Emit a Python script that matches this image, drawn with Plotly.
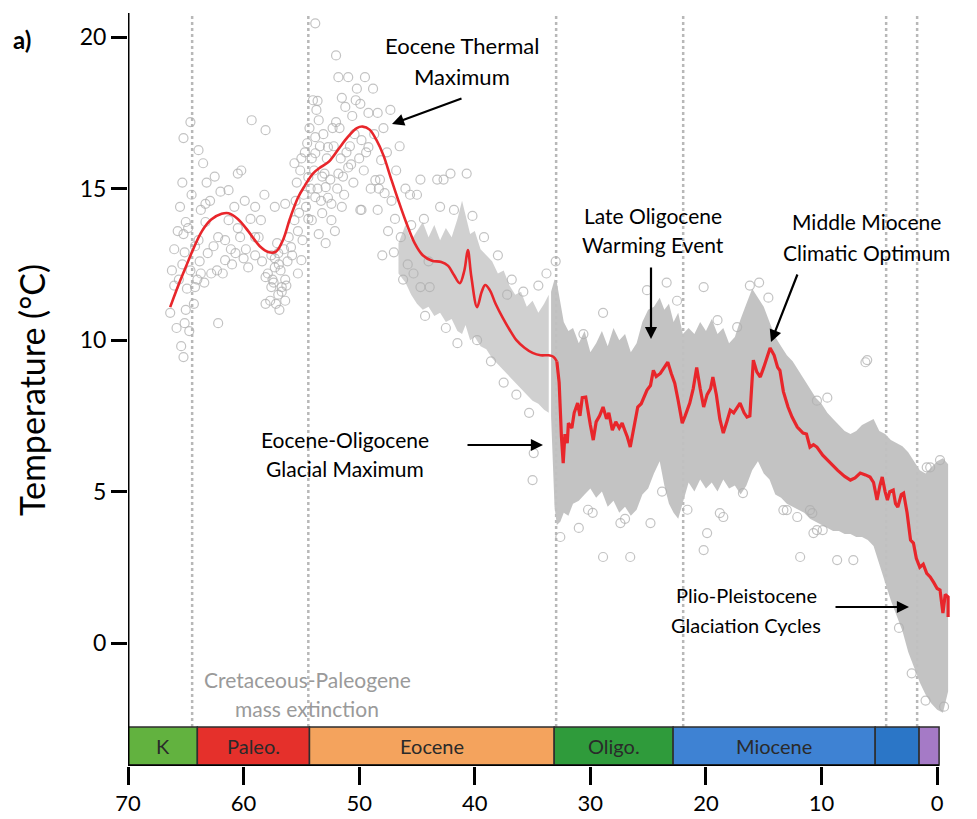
import plotly.graph_objects as go

# ---------------- data ----------------
# smoothed temperature curve (red), Late Cretaceous to Eocene
curve_age = [66.35, 65.5, 64.8, 64.4, 63.6, 62.8, 61.9, 61.3, 60.5, 59.6, 58.6, 57.8, 57.2, 56.6, 56.0,
             55.3, 54.7, 54.0, 53.3, 52.6, 51.8, 51.0, 50.2, 49.7, 49.1, 48.5, 47.9, 47.3, 46.6, 45.9,
             45.2, 44.5, 43.7, 42.9, 42.3, 41.8, 41.3, 40.9, 40.6, 40.3, 39.8, 39.4, 39.1, 38.7, 38.2,
             37.6, 37.0, 36.4, 35.7, 35.0, 34.3, 33.6, 33.2, 32.9]
curve_temp = [11.09, 11.95, 12.6, 12.97, 13.6, 13.98, 14.17, 14.19, 14.0, 13.6, 13.1, 12.9, 12.92, 13.3, 14.0,
              14.7, 15.1, 15.5, 15.72, 15.9, 16.3, 16.7, 17.0, 17.05, 16.95, 16.6, 16.1, 15.4, 14.6, 13.85,
              13.2, 12.8, 12.62, 12.58, 12.45, 12.15, 11.88, 12.3, 12.97, 12.1, 11.09, 11.6, 11.82, 11.65, 11.2,
              10.75, 10.35, 10.0, 9.75, 9.58, 9.5, 9.5, 9.45, 9.3]

# binned temperature curve (red), Oligocene to present
curve2_age = [32.9, 32.7, 32.5, 32.35, 32.2, 32.0, 31.9, 31.6, 31.4, 31.1, 30.9, 30.7, 30.4, 30.2, 30.0,
              29.75, 29.5, 29.2, 28.9, 28.6, 28.4, 28.1, 27.8, 27.5, 27.25, 27.0, 26.8, 26.55, 26.3, 26.1,
              25.9, 25.6, 25.4, 25.1, 24.8, 24.55, 24.3, 23.95, 23.6, 23.3, 23.0, 22.7, 22.4, 22.05, 21.8,
              21.6, 21.4, 21.1, 20.8, 20.5, 20.2, 19.9, 19.6, 19.4, 19.1, 18.8, 18.5, 18.2, 17.9, 17.6,
              17.3, 17.05, 16.7, 16.45, 16.2, 15.9, 15.6, 15.3, 15.0, 14.7, 14.45, 14.1, 13.8, 13.6, 13.3,
              12.9, 12.55, 12.1, 11.6, 11.3, 11.0, 10.7, 10.4, 9.9, 9.25, 8.6, 8.0, 7.5, 7.1, 6.65,
              6.2, 5.8, 5.5, 5.2, 4.95, 4.75, 4.5, 4.3, 4.1, 3.8, 3.6, 3.4, 3.1, 2.9, 2.6,
              2.3, 2.05, 1.8, 1.5, 1.2, 0.9, 0.6, 0.3, 0.0, -0.25, -0.5, -0.7, -0.95, -0.95]
curve2_temp = [9.3, 8.6, 6.8, 5.94, 6.9, 6.6, 7.26, 7.1, 7.6, 7.92, 7.5, 8.1, 8.12, 7.6, 7.2,
               6.7, 7.3, 7.5, 7.79, 7.4, 7.6, 7.03, 7.3, 7.1, 7.26, 7.0, 6.8, 6.47, 7.0, 7.3,
               7.79, 7.9, 8.1, 8.35, 8.5, 9.0, 8.8, 8.9, 9.1, 9.27, 8.9, 8.58, 8.0, 7.26, 7.5,
               7.7, 7.92, 8.4, 9.1, 8.4, 7.79, 8.2, 8.4, 8.78, 8.2, 7.4, 6.93, 7.3, 7.69, 7.6,
               7.8, 7.92, 7.6, 7.46, 7.5, 9.34, 8.95, 8.78, 9.1, 9.5, 9.74, 9.5, 9.1, 9.0, 8.3,
               7.79, 7.46, 7.13, 6.93, 6.9, 6.47, 6.55, 6.47, 6.2, 5.94, 5.7, 5.5, 5.38, 5.45, 5.61,
               5.55, 5.48, 5.3, 4.72, 5.2, 5.48, 5.0, 4.72, 5.0, 5.05, 4.6, 4.49, 4.9, 4.95, 4.3,
               3.4, 3.3, 2.8, 2.5, 2.6, 2.3, 2.18, 2.0, 1.8, 1.75, 0.99, 1.6, 1.52, 0.86]

# envelope of the dense cloud of measurements (middle/late Eocene)
band1_age = [46.6, 46.0, 45.5, 45.0, 44.5, 44.0, 43.5, 43.0, 42.5, 42.0, 41.5, 41.1, 40.8, 40.4, 40.0,
             39.5, 39.0, 38.5, 38.0, 37.5, 37.0, 36.5, 36.0, 35.5, 35.0, 34.5, 34.0, 33.6]
band1_hi = [13.2, 13.8, 13.3, 13.6, 13.9, 13.4, 13.8, 13.3, 13.7, 13.4, 14.0, 14.6, 14.1, 13.5, 13.6,
            13.0, 12.8, 12.6, 12.2, 12.3, 11.8, 11.5, 11.6, 11.1, 11.3, 10.9, 11.2, 11.5]
band1_lo = [12.2, 11.9, 11.5, 11.2, 11.0, 11.1, 10.8, 10.9, 10.6, 10.7, 10.3, 10.2, 10.5, 10.0, 10.1,
            9.8, 9.7, 9.4, 9.2, 9.0, 8.8, 8.6, 8.4, 8.2, 8.0, 7.9, 7.7, 7.6]

# envelope of the dense cloud (Oligocene to present)
band2_age = [33.4, 33.1, 32.9, 32.6, 32.3, 31.9, 31.5, 31.0, 30.5, 30.0, 29.5, 29.0, 28.5, 28.0, 27.5,
             27.0, 26.5, 26.0, 25.5, 25.0, 24.5, 24.0, 23.6, 23.2, 22.8, 22.4, 22.0, 21.5, 21.0, 20.5,
             20.0, 19.5, 19.0, 18.5, 18.0, 17.5, 17.0, 16.5, 16.0, 15.5, 15.0, 14.5, 14.0, 13.5, 13.0,
             12.5, 12.0, 11.5, 11.0, 10.5, 10.0, 9.5, 9.0, 8.5, 8.0, 7.5, 7.0, 6.5, 6.0, 5.5,
             5.0, 4.5, 4.0, 3.5, 3.0, 2.5, 2.0, 1.5, 1.0, 0.5, 0.0, -0.5, -0.95]
band2_hi = [11.6, 12.0, 11.9, 11.2, 10.6, 10.3, 10.4, 9.9, 10.3, 9.6, 9.9, 10.3, 9.8, 10.4, 10.0,
            10.2, 9.6, 9.9, 10.6, 11.0, 11.1, 11.4, 11.0, 11.2, 10.6, 10.9, 10.2, 10.4, 10.2, 10.6,
            10.3, 10.7, 10.2, 10.4, 9.9, 10.1, 10.7, 11.2, 11.7, 11.4, 11.1, 10.6, 10.1, 9.8, 9.5,
            9.3, 9.0, 8.7, 8.4, 8.1, 7.9, 7.6, 7.4, 7.2, 7.0, 6.9, 7.0, 7.2, 7.3, 7.4,
            7.0, 6.9, 6.7, 6.6, 6.5, 6.3, 6.0, 5.7, 5.6, 5.8, 6.0, 6.1, 5.9]
band2_lo = [7.5, 4.5, 3.9, 4.0, 4.3, 4.2, 4.6, 4.7, 4.9, 5.1, 4.8, 5.0, 4.5, 4.7, 4.3,
            4.5, 4.2, 4.4, 4.9, 5.1, 5.6, 6.0, 5.2, 4.6, 4.3, 4.1, 4.6, 5.3, 5.0, 5.4,
            5.1, 5.3, 5.0, 5.4, 5.1, 5.2, 4.9, 5.2, 5.7, 6.0, 5.6, 5.4, 4.9, 4.8, 4.6,
            4.5, 4.4, 4.3, 4.1, 4.0, 3.9, 3.8, 3.7, 3.7, 3.6, 3.6, 3.5, 3.5, 3.4, 3.2,
            2.6, 2.0, 1.4, 0.9, 0.4, -0.3, -0.8, -1.3, -1.7, -2.0, -2.2, -2.3, -1.6]

# individual measurements visible as open circles
pts_age = [66.35, 65.0, 65.1, 62.2, 65.2, 64.6, 63.9, 63.5, 63.2, 63.3, 65.0, 65.2, 63.9, 63.1, 63.7,
           64.2, 62.8, 62.2, 61.3, 60.5, 60.2, 61.3, 59.3, 58.1, 59.9, 59.0, 58.5, 60.5, 60.7, 61.6,
           59.6, 59.0, 58.1, 57.3, 57.6, 56.7, 58.1, 56.4, 57.0, 57.3, 56.4, 55.6, 55.9, 55.3, 55.0,
           55.6, 54.4, 53.8, 53.8, 54.0, 53.5, 52.7, 52.9, 53.8, 53.2, 54.1, 52.4, 51.8, 51.5, 52.4,
           50.95, 51.8, 50.95, 52.0, 49.5, 48.8, 50.3, 51.5, 49.2, 48.4, 49.2, 48.1, 48.6, 49.8, 48.4,
           47.8, 53.8, 53.6, 47.3, 46.5, 42.1, 40.7, 43.25, 65.2,
           57.5, 57.0, 56.8, 57.3, 56.4, 56.9, 57.7, 56.2, 57.1,
           55.2, 54.8, 54.4, 54.2, 53.9, 53.6, 53.3, 53.0, 52.8, 52.5, 52.2, 51.9, 51.6, 51.3, 50.8,
           50.5, 50.0, 49.6, 53.1, 52.0, 50.6, 49.9, 51.2, 54.5, 55.0, 55.4, 53.5, 52.9, 54.9, 52.1,
           65.6, 65.3, 64.9, 64.6, 64.3, 64.0, 63.7, 63.3, 62.6, 62.3, 61.8, 61.0, 60.0, 65.8, 65.4, 66.0,
           44.7, 42.7, 43.0, 48.2, 49.9, 45.8, 45.3, 44.7, 43.9, 44.3, 42.5, 41.5, 39.8, 38.6, 37.5,
           36.4, 35.3, 34.9, 35.0, 38.0, 36.8, 35.8, 34.5, 33.8, 37.2, 39.2, 40.2, 41.8, 47.0, 46.2,
           47.5, 48.0, 46.8, 45.6,
           66.2, 66.0, 65.7, 65.5, 65.3, 65.1, 64.8, 64.7, 64.5, 64.2, 63.8, 63.4, 62.9, 62.5, 62.0,
           61.6, 61.1, 60.8, 60.3, 59.8, 59.4, 59.0, 58.7, 58.4, 58.2, 57.9, 57.6, 57.4, 57.2, 56.95,
           56.7, 56.5, 56.3, 56.1, 55.8, 55.5, 55.3, 55.1, 54.7, 54.6, 54.3, 54.1, 53.7, 53.4, 53.2,
           52.7, 52.3, 51.7, 51.4, 51.1, 50.7, 50.4, 50.2, 49.8, 49.4, 49.0, 48.7, 48.3, 47.9, 47.6,
           47.2, 46.9, 46.4, 46.0, 45.5, 45.0, 44.4, 44.0,
           26.55, 20.2, 24.8, 27.4, 18.5, 28.9, 6.05, 11.85, 8.65, 7.25, 10.7, 0.6, 31.0, 29.8,
           25.1, 23.4, 20.2, 22.5, 28.9, 30.6, 19.0, 17.3, 16.2, 15.4, 6.2, 9.5, 10.4, -0.25, 0.9,
           13.3, 12.1, 10.8, 9.9, 18.8, 16.8, 19.9, 10.4, 13.0, 11.0, 30.2, 27.0, 23.8, 21.6, 33.0,
           32.6, 14.6, 2.2, 1.0, -0.6, 3.3]
pts_temp = [10.9, 11.0, 10.56, 10.56, 16.67, 17.2, 16.27, 15.84, 15.2, 14.5, 13.9, 13.5, 13.3, 12.87, 12.2,
            11.75, 12.2, 13.4, 13.96, 15.5, 15.6, 14.95, 17.26, 16.93, 14.6, 14.4, 13.96, 13.7, 12.87, 12.64,
            12.4, 13.4, 12.08, 12.4, 11.75, 11.75, 11.2, 11.3, 12.87, 14.4, 14.5, 13.96, 13.07, 12.2, 12.64,
            15.84, 15.38, 16.17, 16.7, 17.92, 17.26, 16.37, 15.05, 14.72, 14.19, 13.96, 14.5, 15.5, 14.4, 13.96,
            15.7, 18.68, 18.68, 19.4, 18.68, 18.3, 17.92, 18.0, 17.5, 17.5, 16.37, 15.94, 15.28, 14.3, 14.3,
            14.85, 20.46, 17.9, 17.6, 16.4, 15.5, 15.5, 15.3, 9.44,
            12.0, 11.5, 12.3, 12.7, 12.0, 11.0, 11.3, 12.6, 13.2,
            14.2, 14.8, 14.0, 15.0, 15.6, 15.0, 14.6, 15.5, 16.0, 15.3, 16.4, 15.0, 16.0, 14.8, 16.4,
            15.2, 16.0, 15.6, 16.8, 17.2, 17.4, 17.8, 17.7, 16.5, 16.0, 15.2, 13.5, 13.2, 13.3, 13.6,
            12.0, 12.5, 11.7, 12.3, 11.2, 12.0, 14.3, 13.9, 13.1, 12.3, 12.2, 12.5, 12.7, 10.4, 9.8, 11.8,
            15.3, 15.3, 14.4, 15.3, 14.3, 12.5, 12.2, 11.75, 11.75, 10.8, 10.4, 9.9, 10.0, 9.3, 8.6,
            8.2, 7.6, 6.27, 5.38, 12.8, 12.0, 11.6, 11.8, 12.2, 11.5, 13.4, 14.1, 14.3, 12.9, 12.0,
            13.6, 12.8, 15.6, 14.8,
            12.3, 13.0, 13.6, 14.4, 15.2, 12.9, 13.7, 10.3, 14.8, 13.1, 12.6, 11.9, 14.6, 15.4, 14.9,
            13.3, 13.0, 14.4, 13.4, 13.0, 14.0, 12.8, 13.4, 12.6, 14.8, 12.2, 12.8, 11.9, 11.2, 12.5,
            11.6, 13.0, 11.8, 13.4, 12.8, 14.6, 13.6, 15.6, 16.2, 14.4, 17.0, 16.0, 17.6, 16.4, 15.4,
            14.7, 17.0, 17.0, 15.4, 16.2, 15.8, 16.8, 18.3, 16.6, 16.2, 15.0, 16.8, 15.0, 17.0, 16.2,
            14.6, 14.0, 13.4, 15.0, 13.8, 14.8, 14.0, 12.6,
            2.84, 3.07, 3.96, 3.96, 4.16, 2.84, 9.34, 2.84, 2.74, 2.74, 3.63, 5.8, 3.8, 4.3,
            11.65, 11.9, 11.75, 11.3, 10.9, 10.2, 10.66, 10.43, 11.8, 11.9, 9.27, 8.1, 8.0, 6.04, 5.8,
            4.39, 4.16, 4.29, 3.73, 4.29, 4.95, 3.63, 3.73, 4.39, 4.39, 4.4, 4.1, 5.0, 4.4, 12.6,
            3.5, 11.4, -1.0, -1.9, -2.1, 0.5]

# boundary / event lines (Ma)
event_lines = [64.45, 54.4, 32.96, 21.97, 4.41, 1.73]

# geologic timescale bar
period_names = ["K", "Paleo.", "Eocene", "Oligo.", "Miocene", "", ""]
period_start = [70.0, 64.0, 54.3, 33.13, 22.84, 5.36, 1.56]
period_end = [64.0, 54.3, 33.13, 22.84, 5.36, 1.56, -0.17]
period_colors = ["#62b23f", "#e5302b", "#f4a35d", "#2f9b3b", "#3e82d3", "#2b76c7", "#a57ac6"]

x_ticks = [70, 60, 50, 40, 30, 20, 10, 0]
y_ticks = [0, 5, 10, 15, 20]

# ---------------- layout geometry ----------------
W, H = 977, 819
PL, PR, PT, PB = 128, 951, 13, 766      # plot area in window pixels
ML, MR, MT, MB = PL, W - PR, PT, H - PB
XR = [70, -1.2]
YR = [-4.06, 20.8]
BAR_TOP, BAR_BOT = -2.77, -4.03
PW = PR - PL
PH = PB - PT


def px(xp):
    return (xp - PL) / PW


def py(yp):
    return (PB - yp) / PH


FONT = "Lato, 'Open Sans', sans-serif"

fig = go.Figure()

fig.add_trace(go.Scatter(x=band1_age + band1_age[::-1], y=band1_hi + band1_lo[::-1],
                         fill="toself", fillcolor="rgba(196,196,196,0.8)", line=dict(width=0),
                         mode="lines", hoverinfo="skip", showlegend=False))
fig.add_trace(go.Scatter(x=band2_age + band2_age[::-1], y=band2_hi + band2_lo[::-1],
                         fill="toself", fillcolor="rgba(192,192,192,0.95)", line=dict(width=0),
                         mode="lines", hoverinfo="skip", showlegend=False))
fig.add_trace(go.Scatter(x=pts_age, y=pts_temp, mode="markers",
                         marker=dict(symbol="circle-open", size=9,
                                     line=dict(color="rgba(175,175,175,0.75)", width=1.2),
                                     color="rgba(175,175,175,0.75)"),
                         showlegend=False))
fig.add_trace(go.Scatter(x=curve_age, y=curve_temp, mode="lines",
                         line=dict(color="#e8262b", width=2.6, shape="spline"), showlegend=False))
fig.add_trace(go.Scatter(x=curve2_age, y=curve2_temp, mode="lines",
                         line=dict(color="#e8262b", width=3.2), showlegend=False))

shapes = []
for a in event_lines:
    shapes.append(dict(type="line", xref="x", yref="y", x0=a, x1=a, y0=BAR_TOP, y1=YR[1],
                       line=dict(color="#b8b8b8", width=2.5, dash="dot"), layer="below"))
for s, e, c in zip(period_start, period_end, period_colors):
    shapes.append(dict(type="rect", xref="x", yref="y", x0=s, x1=e, y0=BAR_BOT, y1=BAR_TOP,
                       fillcolor=c, line=dict(color="#2e2e2e", width=1.5), layer="above"))
# axis lines
shapes.append(dict(type="line", xref="x", yref="y", x0=70, x1=70, y0=YR[0], y1=YR[1],
                   line=dict(color="black", width=3)))
shapes.append(dict(type="line", xref="x", yref="y", x0=70, x1=period_end[-1], y0=YR[0], y1=YR[0],
                   line=dict(color="black", width=3)))

ann = []
for n, s, e in zip(period_names, period_start, period_end):
    if n:
        ann.append(dict(x=(s + e) / 2, y=(BAR_TOP + BAR_BOT) / 2, xref="x", yref="y", text=n,
                        xanchor="center", yanchor="middle",
                        showarrow=False, font=dict(family=FONT, size=20, color="#2a2a2a")))


def text_lines(lines, cx, y0, dy=30, color="black", size=21):
    for i, t in enumerate(lines):
        ann.append(dict(x=px(cx), y=py(y0 + i * dy), xref="paper", yref="paper", text=t,
                        xanchor="center", yanchor="middle",
                        showarrow=False, font=dict(family=FONT, size=size, color=color)))


text_lines(["Eocene Thermal", "Maximum"], 462, 46, size=22)
text_lines(["Late Oligocene", "Warming Event"], 653, 215)
text_lines(["Middle Miocene", "Climatic Optimum"], 866, 222)
text_lines(["Eocene-Oligocene", "Glacial Maximum"], 345, 440, dy=28)
text_lines(["Plio-Pleistocene", "Glaciation Cycles"], 746, 595, size=20)
text_lines(["Cretaceous-Paleogene", "mass extinction"], 307, 679, dy=29, color="#9a9a9a", size=21)


def arrow(hx, hy, tx, ty):
    ann.append(dict(x=px(hx), y=py(hy), xref="paper", yref="paper", text="",
                    showarrow=True, ax=tx - hx, ay=ty - hy, axref="pixel", ayref="pixel",
                    arrowhead=2, arrowsize=1.1, arrowwidth=2.2, arrowcolor="black"))


arrow(392, 124, 463, 98)
arrow(651, 339, 651, 266)
arrow(771, 342, 798, 273)
arrow(543, 445, 466, 445)
arrow(909, 607, 834, 607)

ann.append(dict(x=px(31), y=py(390), xref="paper", yref="paper", text="Temperature (°C)",
                xanchor="center", yanchor="middle",
                textangle=-90, showarrow=False, font=dict(family=FONT, size=34, color="black")))
ann.append(dict(x=px(22), y=py(40), xref="paper", yref="paper", text="<b>a)</b>",
                xanchor="center", yanchor="middle",
                showarrow=False, font=dict(family=FONT, size=24, color="black")))

fig.update_layout(
    width=W, height=H,
    margin=dict(l=ML, r=MR, t=MT, b=MB, autoexpand=False),
    plot_bgcolor="white", paper_bgcolor="white",
    shapes=shapes, annotations=ann,
    xaxis=dict(range=XR, tickvals=x_ticks, ticks="outside", ticklen=18, tickwidth=3,
               tickcolor="black", showgrid=False, zeroline=False, showline=False, automargin=False,
               tickfont=dict(family=FONT, size=22, color="black")),
    yaxis=dict(range=YR, tickvals=y_ticks, ticks="outside", ticklen=16, tickwidth=3,
               tickcolor="black", showgrid=False, zeroline=False, showline=False, automargin=False,
               tickfont=dict(family=FONT, size=23, color="black")),
)

# remove the default page margin so the figure fills the window exactly
fig.write_html("out.html", config={"displayModeBar": False},
               post_script="document.body.style.margin='0';document.body.style.overflow='hidden';")
